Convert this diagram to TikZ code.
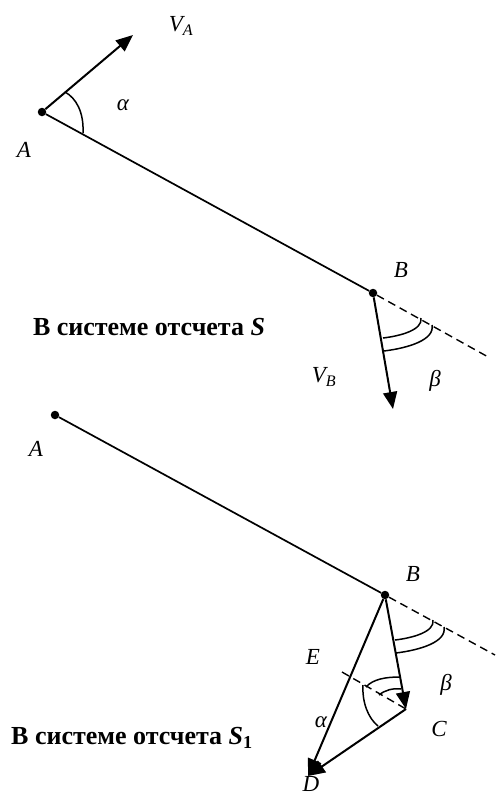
\documentclass[tikz,border=0pt]{standalone}
\usepackage{fontspec}
\setmainfont{Liberation Serif}
\usetikzlibrary{arrows.meta}
\tikzset{
  dot/.style={circle, fill, inner sep=0pt, minimum size=8.5pt},
  lbl/.style={font=\fontsize{23}{27}\selectfont\itshape, inner sep=0pt},
  caption/.style={font=\fontsize{26}{30}\selectfont\bfseries, inner sep=0pt},
  vec/.style={line width=2pt, -{Triangle[length=17pt,width=14pt]}},
  rod/.style={line width=1.7pt},
  ext/.style={line width=1.4pt, dash pattern=on 8pt off 5pt},
  angarc/.style={line width=1.5pt}
}

\begin{document}
\begin{tikzpicture}[x=1pt, y=-1pt]
  \useasboundingbox (0,0) rectangle (496,796);

  % система S
  \node[dot] (A) at (42,112) {};
  \node[dot] (B) at (373,293) {};
  \coordinate (VAend) at (133,35);
  \coordinate (VBend) at (393,409);
  \coordinate (Bext) at (490,358);
  \draw[rod] (A) -- (B);
  \draw[vec] (A) -- (VAend);
  \draw[vec] (B) -- (VBend);
  \draw[ext] (B) -- (Bext);
  % углы
  \draw[angarc] (65,92) .. controls (76,98) and (84,112) .. (83,133);
  \draw[angarc] (421,318) .. controls (423,330) and (400,336) .. (383,338);
  \draw[angarc] (432,325) .. controls (435,340) and (408,348) .. (384,351);

  \node[lbl] (VA) at (181,26) {V\textsubscript{A}};
  \node[lbl] (alpha) at (123,105) {α};
  \node[lbl] (lA) at (24,150) {A};
  \node[lbl] (lB) at (401,270) {B};
  \node[lbl] (beta) at (435,381) {β};
  \node[lbl] (VB) at (324,377) {V\textsubscript{B}};
  \node[caption] (capS) at (149,327) {В системе отсчета \textit{S}};

  % система S1
  \node[dot] (A2) at (55,415) {};
  \node[dot] (B2) at (385,595) {};
  \coordinate (C) at (406,709);
  \coordinate (D) at (308,776);
  \coordinate (Eend) at (342,672);
  \coordinate (B2ext) at (495,655);
  \draw[rod] (A2) -- (B2);
  \draw[ext] (B2) -- (B2ext);
  \draw[vec] (B2) -- (C);
  \draw[vec] (B2) -- (D);
  \draw[vec] (C) -- (D);
  \draw[ext] (Eend) -- (C);
  % углы
  \draw[angarc] (433,620) .. controls (435,632) and (412,638) .. (395,640);
  \draw[angarc] (444,627) .. controls (447,642) and (420,650) .. (396,653);
  \draw[angarc] (366,687) .. controls (373,679) and (386,677) .. (400,677);
  \draw[angarc] (379,695) .. controls (385,690) and (393,688) .. (401,689);
  \draw[angarc] (363,685) .. controls (362,702) and (368,718) .. (378,726);

  \node[lbl] (lA2) at (36,449) {A};
  \node[lbl] (lB2) at (413,574) {B};
  \node[lbl] (lE) at (313,657) {E};
  \node[lbl] (beta2) at (446,685) {β};
  \node[lbl] (alpha2) at (321,722) {α};
  \node[lbl] (lC) at (439,729) {C};
  \node[lbl] (lD) at (311,784) {D};
  \node[caption] (capS1) at (132,738) {В системе отсчета \textit{S}\textsubscript{1}};
\end{tikzpicture}
\end{document}
